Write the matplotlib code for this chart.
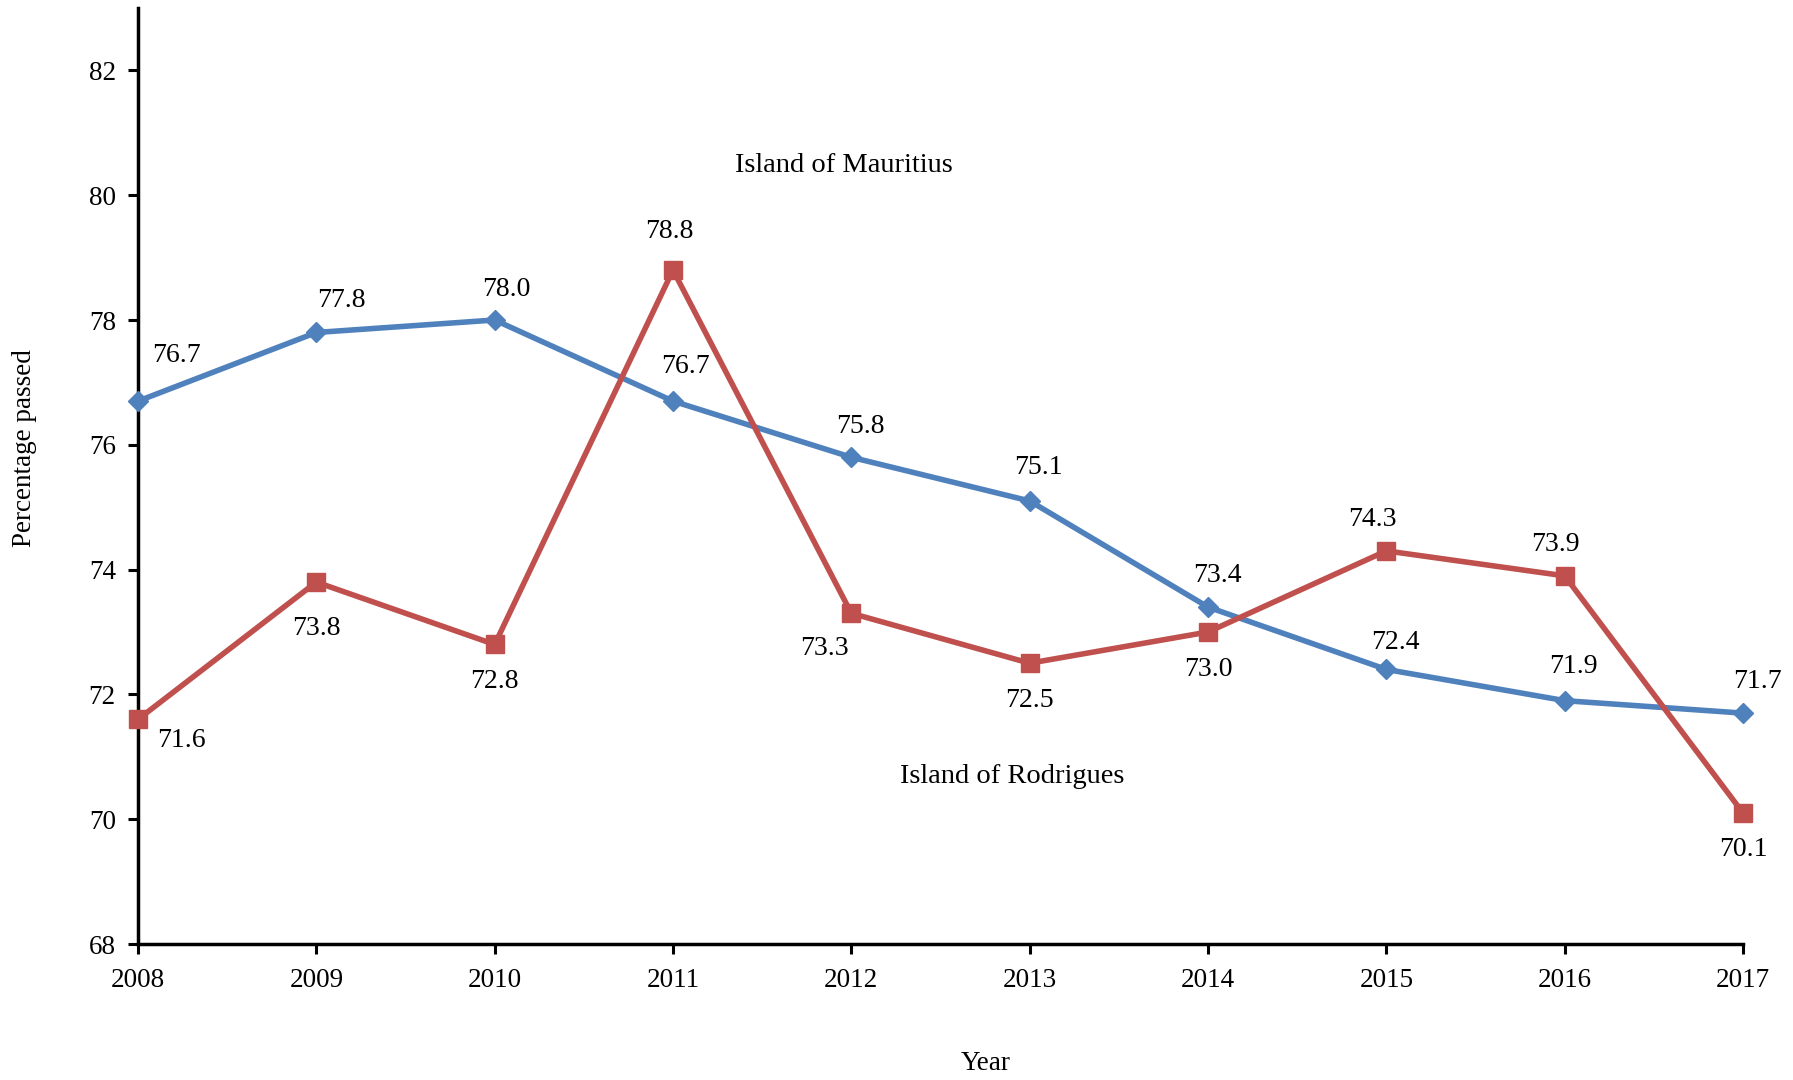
import numpy as np
import matplotlib.pyplot as plt

plt.rcParams['font.family'] = ['Liberation Serif', 'DejaVu Serif']

############################################## Data ###################################################################
Years = [2008, 2009, 2010, 2011, 2012, 2013, 2014, 2015, 2016, 2017]
Mauritius = [76.7, 77.8, 78.0, 76.7, 75.8, 75.1, 73.4, 72.4, 71.9, 71.7]
Rodrigues = [71.6, 73.8, 72.8, 78.8, 73.3, 72.5, 73.0, 74.3, 73.9, 70.1]
YTicks = [68, 70, 72, 74, 76, 78, 80, 82]

# label offsets in pixels (dx, dy), dy positive = upwards
OffsetsMauritius = [(38, 46), (25, 32), (12, 31), (12, 35), (9, 31), (9, 33), (9, 32), (9, 27), (9, 34), (14, 32)]
OffsetsRodrigues = [(43, -21), (0, -46), (0, -37), (-4, 39), (-27, -35), (0, -37), (0, -38), (-14, 31), (-9, 31), (0, -37)]

Blue = "#4F81BD"
Red = "#C0504D"

fig = plt.figure(figsize = (17.93, 10.80), dpi = 100)
ax = fig.add_axes([138 / 1793, 1 - 944 / 1080, (1743 - 138) / 1793, (944 - 8) / 1080])

ax.plot(Years, Mauritius, color = Blue, lw = 4, marker = 'D', markersize = 10.5, clip_on = False, zorder = 3)
ax.plot(Years, Rodrigues, color = Red, lw = 4, marker = 's', markersize = 13.5, clip_on = False, zorder = 3)

for x, y, (dx, dy) in zip(Years, Mauritius, OffsetsMauritius):
    ax.annotate(f"{y:.1f}", (x, y), xytext = (dx, dy), textcoords = 'offset pixels',
                ha = 'center', va = 'center', fontsize = 20)
for x, y, (dx, dy) in zip(Years, Rodrigues, OffsetsRodrigues):
    ax.annotate(f"{y:.1f}", (x, y), xytext = (dx, dy), textcoords = 'offset pixels',
                ha = 'center', va = 'center', fontsize = 20)

ax.text(2011.96, 80.47, "Island of Mauritius", ha = 'center', va = 'center', fontsize = 20.5)
ax.text(2012.90, 70.69, "Island of Rodrigues", ha = 'center', va = 'center', fontsize = 20.5)

ax.set_xlim(2008, 2017)
ax.set_ylim(68, 83)
ax.set_xticks(Years)
ax.set_yticks(YTicks)
ax.tick_params(axis = 'both', direction = 'out', length = 7, width = 2.2, labelsize = 19.5)
ax.tick_params(axis = 'x', pad = 10)
ax.tick_params(axis = 'y', pad = 9)

for side in ['top', 'right']:
    ax.spines[side].set_visible(False)
for side in ['left', 'bottom']:
    ax.spines[side].set_linewidth(2.5)

fig.text(25 / 1793, 1 - 448 / 1080, "Percentage passed", rotation = 90, ha = 'center', va = 'center', fontsize = 19.5)
fig.text(986 / 1793, 1 - 1063 / 1080, "Year", ha = 'center', va = 'center', fontsize = 19.5)

plt.savefig("out.png", dpi = 100)
